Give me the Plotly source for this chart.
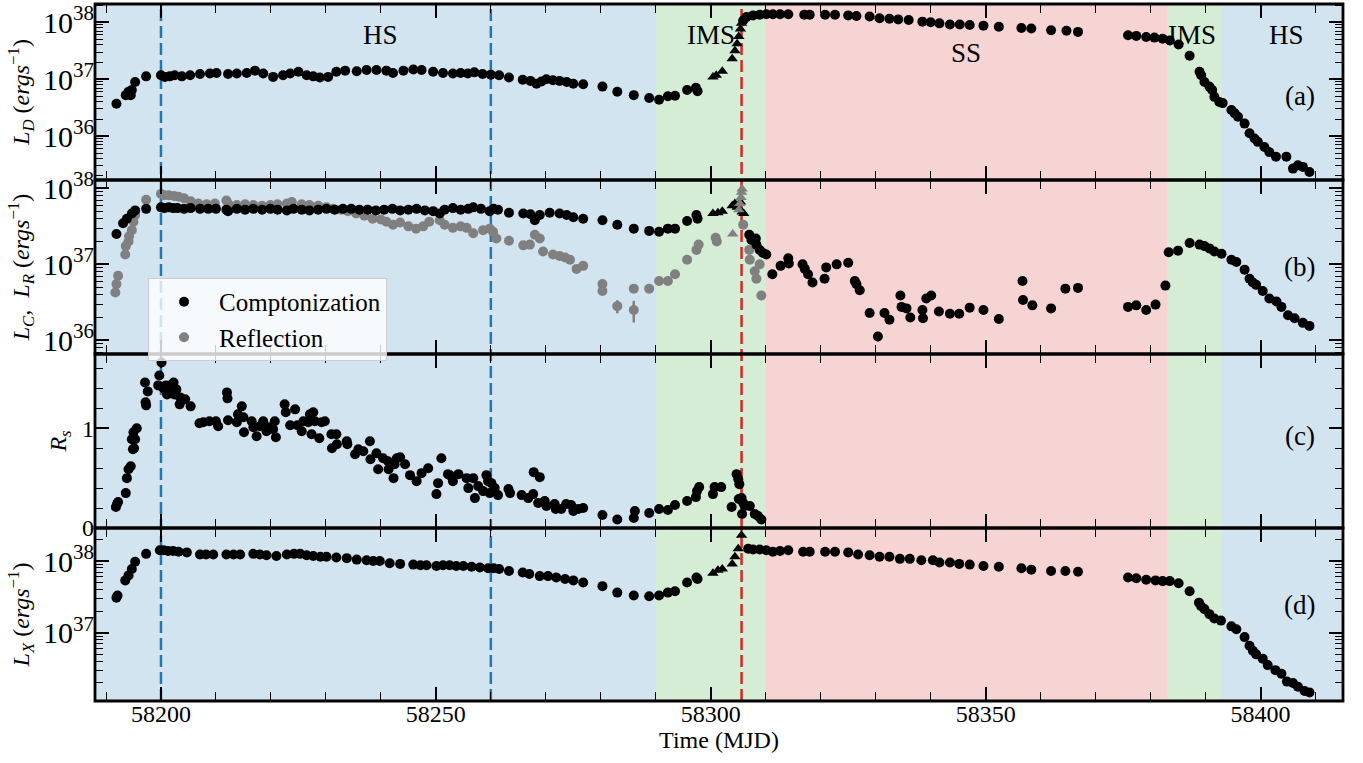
import plotly.graph_objects as go
from plotly.subplots import make_subplots

# ---------------- panel (a): disc luminosity, log10(L_D / erg s^-1) ----------------
mjd_a = [58191.9, 58193.6, 58194.1, 58194.5, 58194.7, 58195.3, 58197.3,
         58200.0, 58200.7, 58201.6, 58202.5, 58203.8, 58205.3, 58207.1, 58208.9, 58210.1,
         58212.2, 58213.8, 58215.6, 58217.1, 58218.6, 58220.4, 58222.2, 58223.5, 58225.0,
         58226.5, 58227.7, 58228.9, 58230.4, 58231.9, 58233.5, 58235.6, 58237.4, 58239.2,
         58241.0, 58242.2, 58244.1, 58245.9, 58247.4, 58249.5, 58251.3, 58253.1, 58254.5,
         58255.8, 58257.0, 58258.5, 58260.0, 58261.5, 58263.3, 58265.8, 58267.2, 58268.3,
         58269.2, 58270.1, 58271.3, 58272.5, 58273.8, 58275.0, 58276.8, 58280.3, 58283.0,
         58286.0, 58288.8, 58290.6, 58292.2, 58293.5, 58295.7, 58297.3, 58297.6,
         58305.9, 58306.5, 58307.7, 58308.9, 58310.1, 58311.3, 58312.6, 58314.1, 58317.0,
         58318.0, 58320.8, 58322.6, 58325.0, 58326.5, 58328.9, 58330.7, 58332.5, 58334.1,
         58336.0, 58338.5, 58340.0, 58341.6, 58343.5, 58345.3, 58347.1, 58349.6, 58352.4,
         58356.5, 58358.3, 58361.9, 58364.7, 58366.8, 58375.9, 58377.4, 58379.2, 58380.7,
         58382.2, 58383.5, 58385.1, 58387.1, 58388.9, 58389.2, 58389.8, 58390.7, 58391.2,
         58391.6, 58392.5, 58393.1, 58394.7, 58395.3, 58395.9, 58397.1, 58398.0, 58398.9,
         58399.5, 58400.7, 58401.6, 58402.8, 58404.7, 58405.9, 58406.8, 58407.7, 58408.9]
log_ld = [36.57, 36.72, 36.78, 36.72, 36.81, 36.95, 37.05,
          37.07, 37.04, 37.05, 37.07, 37.05, 37.07, 37.09, 37.10, 37.11,
          37.09, 37.10, 37.11, 37.15, 37.10, 37.04, 37.07, 37.10, 37.13,
          37.07, 37.05, 37.03, 37.04, 37.13, 37.15, 37.14, 37.16, 37.16,
          37.15, 37.11, 37.15, 37.17, 37.16, 37.13, 37.11, 37.10, 37.11,
          37.10, 37.12, 37.09, 37.08, 37.07, 37.03, 36.99, 36.97, 36.92,
          36.96, 37.00, 36.98, 36.97, 36.95, 36.92, 36.91, 36.87, 36.78,
          36.72, 36.67, 36.64, 36.70, 36.71, 36.81, 36.85, 36.79,
          38.03, 38.09, 38.12, 38.13, 38.14, 38.14, 38.14, 38.14, 38.13,
          38.13, 38.13, 38.13, 38.12, 38.11, 38.10, 38.07, 38.06, 38.05,
          38.04, 38.01, 38.00, 37.98, 37.96, 37.96, 37.95, 37.94, 37.92,
          37.90, 37.89, 37.86, 37.85, 37.83, 37.77, 37.76, 37.74, 37.73,
          37.71, 37.68, 37.61, 37.41, 37.13, 37.07, 36.95, 36.87, 36.81,
          36.69, 36.60, 36.58, 36.46, 36.40, 36.34, 36.22, 36.05, 35.96,
          35.90, 35.81, 35.72, 35.64, 35.64, 35.43, 35.49, 35.46, 35.37]
mjd_a_tri = [58300.4, 58301.0, 58302.1, 58303.9, 58304.4, 58304.8, 58305.1, 58305.4, 58305.6]
log_ld_tri = [37.04, 37.07, 37.14, 37.36, 37.50, 37.62, 37.75, 37.88, 37.98]

# ---------------- panel (b): Comptonization and reflection luminosities ----------------
mjd_c = [58191.9, 58193.1, 58193.8, 58194.7, 58195.3, 58197.3,
         58200.0, 58200.6, 58201.4, 58202.2, 58203.0, 58204.2, 58205.4, 58207.1, 58208.6,
         58210.0, 58211.9, 58212.2, 58213.8, 58215.3, 58216.8, 58218.4, 58219.9, 58221.2,
         58222.9, 58224.1, 58225.6, 58227.0, 58228.6, 58230.1, 58231.6, 58233.1, 58234.6,
         58236.1, 58237.6, 58239.1, 58240.6, 58242.1, 58243.5, 58245.0, 58246.5, 58248.0,
         58249.5, 58250.7, 58251.6, 58253.1, 58254.5, 58255.9, 58256.8, 58258.2, 58259.8,
         58260.5, 58261.3, 58263.3, 58265.9, 58267.2, 58268.0, 58268.9, 58270.7, 58272.5,
         58273.8, 58275.0, 58276.8, 58280.3, 58283.0, 58286.0, 58288.8, 58290.6, 58292.2,
         58293.5, 58295.7, 58297.4, 58297.6,
         58307.0, 58307.4, 58308.2, 58308.3, 58308.9, 58309.5, 58310.1, 58311.2, 58312.7,
         58314.1, 58314.2, 58316.7, 58317.1, 58317.7, 58318.5, 58320.7, 58321.0, 58322.9,
         58325.0, 58326.2, 58326.5, 58327.1, 58328.9, 58330.4, 58331.6, 58332.5, 58334.5,
         58334.7, 58335.6, 58336.3, 58338.5, 58338.6, 58339.2, 58340.1, 58341.5, 58343.5,
         58345.2, 58347.1, 58349.6, 58352.4, 58356.7, 58356.8, 58358.5, 58361.9, 58364.5,
         58366.8, 58375.9, 58377.4, 58379.2, 58380.9, 58382.7, 58383.3, 58385.0, 58387.1,
         58388.9, 58389.8, 58390.7, 58391.6, 58392.9, 58394.7, 58395.6, 58397.1, 58398.0,
         58398.6, 58399.2, 58400.4, 58401.6, 58402.9, 58403.8, 58405.0, 58406.2, 58407.7,
         58408.9]
log_lc = [37.40, 37.54, 37.60, 37.67, 37.71, 37.73,
          37.75, 37.74, 37.75, 37.74, 37.74, 37.73, 37.74, 37.73, 37.73,
          37.73, 37.72, 37.70, 37.73, 37.72, 37.73, 37.72, 37.73, 37.72,
          37.71, 37.73, 37.72, 37.71, 37.72, 37.73, 37.72, 37.73, 37.73,
          37.72, 37.72, 37.71, 37.72, 37.73, 37.71, 37.72, 37.73, 37.71,
          37.70, 37.67, 37.72, 37.74, 37.72, 37.73, 37.75, 37.73, 37.70,
          37.73, 37.72, 37.68, 37.67, 37.66, 37.58, 37.65, 37.68, 37.67,
          37.65, 37.62, 37.60, 37.58, 37.52, 37.47, 37.44, 37.43, 37.47,
          37.47, 37.57, 37.65, 37.60,
          37.39, 37.32, 37.34, 37.26, 37.19, 37.15, 37.13, 36.87, 36.98,
          37.08, 37.01, 37.00, 36.94, 36.87, 36.76, 36.81, 36.96, 37.00,
          37.02, 36.78, 36.74, 36.66, 36.36, 36.05, 36.36, 36.27, 36.59,
          36.44, 36.42, 36.30, 36.40, 36.29, 36.55, 36.59, 36.38, 36.35,
          36.35, 36.43, 36.40, 36.28, 36.78, 36.53, 36.46, 36.42, 36.68,
          36.69, 36.44, 36.46, 36.40, 36.47, 36.72, 37.16, 37.18, 37.28,
          37.26, 37.24, 37.21, 37.17, 37.14, 37.06, 37.03, 36.93, 36.81,
          36.76, 36.73, 36.65, 36.55, 36.51, 36.44, 36.33, 36.29, 36.23,
          36.19]
# 1-sigma errors on L_C in units of 1e36 erg/s (only the large ones are non-zero)
err_lc = [0.0] * len(mjd_c)
err_lc[mjd_c.index(58330.4)] = 0.15

mjd_c_tri = [58300.4, 58301.3, 58302.1, 58303.9, 58304.4, 58304.8, 58305.4, 58305.7, 58306.0]
log_lc_tri = [37.67, 37.68, 37.70, 37.77, 37.80, 37.75, 37.82, 37.69, 37.67]

mjd_r = [58191.7, 58191.9, 58192.2, 58193.5, 58193.6, 58194.1, 58194.2, 58194.7, 58195.0,
         58195.3, 58197.3,
         58200.0, 58200.6, 58201.4, 58202.4, 58203.2, 58204.2, 58205.4, 58206.8, 58208.3,
         58209.8, 58211.9, 58212.3, 58213.8, 58215.3, 58216.8, 58218.4, 58219.9, 58221.2,
         58222.9, 58223.8, 58225.6, 58227.0, 58228.6, 58230.1, 58231.3, 58232.8, 58234.0,
         58235.5, 58237.0, 58238.5, 58240.0, 58241.0, 58242.2, 58243.5, 58245.0, 58246.4,
         58247.7, 58248.8, 58250.7, 58251.6, 58253.1, 58254.5, 58255.6, 58256.8, 58258.6,
         58259.8, 58260.4, 58261.0, 58263.3, 58265.9, 58267.1, 58268.0, 58268.9, 58269.5,
         58271.3, 58272.5, 58273.5, 58274.4, 58275.6, 58276.8, 58280.3, 58280.3, 58283.0,
         58286.0, 58286.0, 58288.8, 58290.6, 58292.2, 58293.5, 58295.7, 58297.4, 58297.8,
         58300.9, 58301.1,
         58305.9, 58307.0, 58307.1, 58308.0, 58308.3, 58308.9, 58309.2]
log_lr = [36.63, 36.74, 36.85, 37.13, 37.24, 37.30, 37.37, 37.45, 37.56,
          37.65, 37.85,
          37.93, 37.91, 37.91, 37.90, 37.89, 37.87, 37.83, 37.80, 37.79,
          37.80, 37.84, 37.79, 37.78, 37.79, 37.78, 37.77, 37.78, 37.79,
          37.80, 37.82, 37.79, 37.78, 37.77, 37.75, 37.73, 37.72, 37.70,
          37.67, 37.64, 37.60, 37.59, 37.56, 37.52, 37.55, 37.50, 37.47,
          37.50, 37.56, 37.58, 37.52, 37.48, 37.50, 37.48, 37.41, 37.45,
          37.47, 37.43, 37.34, 37.31, 37.25, 37.26, 37.39, 37.34, 37.17,
          37.13, 37.11, 37.09, 37.06, 36.94, 36.98, 36.74, 36.65, 36.45,
          36.68, 36.40, 36.68, 36.78, 36.78, 36.87, 37.06, 37.19, 37.26,
          37.35, 37.30,
          37.52, 37.19, 37.06, 36.91, 36.81, 37.00, 36.59]
# 1-sigma errors on L_R in units of 1e36 erg/s
err_lr = [0.0] * len(mjd_r)
err_lr[71] = 0.3
err_lr[72] = 0.3
err_lr[73] = 0.55
err_lr[74] = 0.5
err_lr[75] = 0.8

mjd_r_tri = [58304.0, 58305.1, 58305.3, 58305.5, 58305.6, 58305.7]
log_lr_tri = [37.40, 37.72, 37.80, 37.88, 37.95, 37.99]

# ---------------- panel (c): reflection strength R_s ----------------
mjd_s = [58191.8, 58192.0, 58192.2, 58193.6, 58193.8, 58194.1, 58194.5, 58194.7, 58194.9,
         58195.0, 58195.1, 58195.3, 58195.6, 58197.1, 58197.3, 58197.2, 58197.6,
         58199.5, 58199.7, 58200.1, 58200.5, 58200.9, 58201.1, 58201.4, 58201.7, 58202.0,
         58202.3, 58202.5, 58202.8, 58203.4, 58203.5, 58204.4, 58205.4,
         58207.0, 58207.7, 58208.8, 58210.0, 58210.4, 58212.0, 58212.1, 58212.2, 58213.8,
         58214.0, 58214.7, 58215.0, 58215.1, 58216.5, 58216.8, 58217.4, 58218.0, 58218.6,
         58219.2, 58219.8, 58220.4, 58220.7, 58220.9,
         58222.5, 58222.7, 58223.5, 58224.4, 58224.8, 58225.6, 58225.9, 58226.8, 58227.1,
         58227.4, 58227.7, 58228.0, 58228.8, 58229.2, 58229.8,
         58231.0, 58231.1, 58231.9, 58232.0, 58233.8, 58233.9,
         58235.3, 58235.9, 58236.8, 58238.0, 58238.1, 58239.2, 58239.5, 58240.4, 58241.3,
         58241.4, 58242.3, 58242.5, 58242.9, 58243.5, 58244.4,
         58245.3, 58246.5, 58247.4, 58248.6, 58250.1, 58250.4, 58251.0, 58252.2, 58252.5,
         58253.1, 58254.1, 58255.6, 58255.9, 58256.8, 58257.1, 58257.7, 58258.6, 58259.2,
         58259.5, 58259.8, 58260.1, 58260.7, 58261.3,
         58263.2, 58263.5, 58265.6, 58266.8, 58267.7, 58267.8, 58268.9, 58268.6, 58269.8,
         58270.1, 58271.6, 58271.8, 58272.8, 58273.7, 58274.6, 58275.0, 58275.9, 58276.8,
         58280.3, 58283.0, 58286.0, 58286.2, 58288.8, 58290.6, 58292.2, 58293.5, 58295.7,
         58297.3, 58297.5, 58297.9, 58300.4, 58300.7, 58301.9, 58303.8, 58304.7, 58305.0,
         58305.2, 58305.1, 58305.6, 58305.9, 58305.7, 58306.2, 58307.1, 58308.0, 58308.6,
         58309.2]
rs = [0.21, 0.24, 0.26, 0.35, 0.50, 0.59, 0.62, 0.89, 0.79,
      0.96, 0.80, 0.89, 1.00, 1.46, 1.23, 1.26, 1.37,
      1.43, 1.53, 1.66, 1.40, 1.43, 1.34, 1.37, 1.43, 1.35,
      1.46, 1.34, 1.39, 1.24, 1.31, 1.29, 1.22,
      1.05, 1.06, 1.07, 1.07, 1.02, 1.36, 1.30, 1.08, 1.06,
      1.14, 1.22, 1.11, 0.96, 1.07, 1.01, 0.92, 1.02, 1.07,
      0.97, 1.01, 0.99, 1.07, 0.91,
      1.24, 1.16, 1.03, 1.19, 1.03, 0.97, 1.07, 1.06, 1.14,
      0.94, 1.16, 1.07, 0.90, 1.06, 1.07,
      0.94, 0.80, 0.94, 0.84, 0.87, 0.84,
      0.74, 0.79, 0.77, 0.87, 0.69, 0.75, 0.59, 0.70, 0.67,
      0.59, 0.50, 0.64, 0.70, 0.71, 0.64,
      0.53, 0.47, 0.55, 0.60, 0.34, 0.45, 0.70, 0.54, 0.53,
      0.47, 0.54, 0.50, 0.40, 0.50, 0.30, 0.42, 0.37, 0.53,
      0.47, 0.35, 0.45, 0.40, 0.33,
      0.39, 0.35, 0.33, 0.30, 0.34, 0.56, 0.51, 0.25, 0.27,
      0.22, 0.24, 0.19, 0.19, 0.24, 0.23, 0.17, 0.19, 0.20,
      0.13, 0.085, 0.10, 0.17, 0.15, 0.19, 0.18, 0.23, 0.27,
      0.31, 0.37, 0.41, 0.34, 0.41, 0.41, 0.21, 0.54, 0.49,
      0.44, 0.29, 0.30, 0.25, 0.14, 0.22, 0.22, 0.14, 0.12,
      0.085]

# ---------------- panel (d): total X-ray luminosity, log10(L_X / erg s^-1) ----------------
mjd_x = [58191.9, 58192.1, 58193.5, 58194.1, 58194.7, 58195.3, 58197.3,
         58199.8, 58200.5, 58201.3, 58202.2, 58203.2, 58204.7, 58207.1, 58208.2, 58209.5,
         58211.9, 58213.2, 58214.4, 58216.8, 58218.0, 58219.2, 58221.0, 58222.9, 58224.2,
         58225.3, 58226.5, 58227.7, 58229.0, 58230.1, 58231.9, 58233.8, 58235.6, 58237.4,
         58238.6, 58239.8, 58241.6, 58243.5, 58245.9, 58247.2, 58248.3, 58250.1, 58251.3,
         58252.5, 58253.7, 58255.0, 58256.5, 58258.0, 58259.5, 58260.5, 58261.5, 58263.3,
         58265.8, 58267.0, 58268.9, 58270.4, 58271.9, 58273.5, 58275.0, 58276.8, 58280.3,
         58283.0, 58286.0, 58288.8, 58290.6, 58292.2, 58293.5, 58295.7, 58297.4, 58297.6,
         58306.8, 58307.7, 58308.9, 58310.1, 58311.3, 58312.6, 58314.1, 58316.8, 58318.0,
         58320.8, 58322.6, 58325.0, 58326.8, 58328.9, 58330.7, 58332.5, 58334.4, 58336.2,
         58338.3, 58340.4, 58341.6, 58343.5, 58345.2, 58347.1, 58349.6, 58352.4, 58356.5,
         58358.3, 58361.9, 58364.5, 58366.8, 58375.9, 58377.4, 58379.2, 58380.9, 58382.2,
         58383.5, 58385.1, 58387.1, 58388.8, 58389.2, 58389.8, 58390.7, 58391.6, 58392.8,
         58394.7, 58395.6, 58397.1, 58398.0, 58398.6, 58399.2, 58400.4, 58401.3, 58402.7,
         58403.8, 58404.8, 58405.9, 58406.8, 58408.0, 58408.9]
log_lx = [37.49, 37.52, 37.73, 37.80, 37.89, 37.99, 38.10,
          38.15, 38.15, 38.14, 38.14, 38.13, 38.12, 38.09, 38.09, 38.09,
          38.09, 38.09, 38.09, 38.10, 38.09, 38.08, 38.07, 38.09, 38.10,
          38.10, 38.08, 38.07, 38.06, 38.06, 38.05, 38.04, 38.02, 38.01,
          38.00, 38.00, 37.97, 37.96, 37.95, 37.94, 37.94, 37.93, 37.94,
          37.94, 37.93, 37.93, 37.92, 37.91, 37.90, 37.90, 37.89, 37.86,
          37.84, 37.82, 37.79, 37.79, 37.77, 37.75, 37.73, 37.70, 37.65,
          37.56, 37.52, 37.51, 37.52, 37.56, 37.58, 37.70, 37.77, 37.75,
          38.17, 38.16, 38.16, 38.15, 38.13, 38.14, 38.15, 38.13, 38.13,
          38.13, 38.13, 38.12, 38.09, 38.08, 38.06, 38.06, 38.03, 38.03,
          38.01, 38.01, 37.98, 37.98, 37.96, 37.95, 37.93, 37.92, 37.90,
          37.88, 37.86, 37.86, 37.85, 37.77, 37.76, 37.74, 37.73, 37.72,
          37.72, 37.69, 37.58, 37.42, 37.37, 37.33, 37.26, 37.20, 37.17,
          37.09, 37.05, 36.94, 36.82, 36.75, 36.70, 36.64, 36.55, 36.48,
          36.43, 36.32, 36.30, 36.25, 36.19, 36.17]
mjd_x_tri = [58300.4, 58301.3, 58302.1, 58303.9, 58304.4, 58305.0, 58305.6]
log_lx_tri = [37.83, 37.87, 37.89, 37.96, 38.06, 38.17, 38.36]

# ---------------- spectral states and reference epochs ----------------
state_spans = [(58180.0, 58290.0, "rgba(31,119,180,0.2)"),
               (58290.0, 58310.0, "rgba(44,160,44,0.2)"),
               (58310.0, 58383.0, "rgba(214,39,40,0.2)"),
               (58383.0, 58393.0, "rgba(44,160,44,0.2)"),
               (58393.0, 58420.0, "rgba(31,119,180,0.2)")]
state_names = ["HS", "IMS", "SS", "IMS", "HS"]
state_label_mjd = [58240.0, 58300.0, 58346.4, 58387.6, 58404.7]
epoch_lines = [(58200.0, "#1f77b4"), (58260.0, "#1f77b4"), (58305.6, "#d62728")]
panel_tags = ["(a)", "(b)", "(c)", "(d)"]

FONT = "Liberation Serif"
ROW_HEIGHTS = [176, 174, 174, 173]


def lum(logs):
    return [10.0 ** v for v in logs]


fig = make_subplots(rows=4, cols=1, shared_xaxes=True, vertical_spacing=0,
                    row_heights=ROW_HEIGHTS)

circ = dict(symbol="circle", size=10, line=dict(width=0))
tri = dict(symbol="triangle-up", size=10, line=dict(width=0))

# (a)
fig.add_trace(go.Scatter(x=mjd_a, y=lum(log_ld), mode="markers",
                         marker=dict(color="black", **circ), showlegend=False), row=1, col=1)
fig.add_trace(go.Scatter(x=mjd_a_tri, y=lum(log_ld_tri), mode="markers",
                         marker=dict(color="black", **tri), showlegend=False), row=1, col=1)

# (b)
fig.add_trace(go.Scatter(x=mjd_r, y=lum(log_lr), mode="markers", name="Reflection",
                         marker=dict(color="gray", **circ), legendrank=2,
                         error_y=dict(type="data", array=[e * 1e36 for e in err_lr],
                                      color="gray", thickness=2.5, width=0)),
              row=2, col=1)
fig.add_trace(go.Scatter(x=mjd_c, y=lum(log_lc), mode="markers", name="Comptonization",
                         marker=dict(color="black", **circ), legendrank=1,
                         error_y=dict(type="data", array=[e * 1e36 for e in err_lc],
                                      color="black", thickness=2.5, width=0)),
              row=2, col=1)
fig.add_trace(go.Scatter(x=mjd_c_tri, y=lum(log_lc_tri), mode="markers",
                         marker=dict(color="black", **tri), showlegend=False), row=2, col=1)
fig.add_trace(go.Scatter(x=mjd_r_tri, y=lum(log_lr_tri), mode="markers",
                         marker=dict(color="gray", **tri), showlegend=False), row=2, col=1)

# (c)
fig.add_trace(go.Scatter(x=mjd_s, y=rs, mode="markers",
                         marker=dict(color="black", **circ), showlegend=False), row=3, col=1)

# (d)
fig.add_trace(go.Scatter(x=mjd_x, y=lum(log_lx), mode="markers",
                         marker=dict(color="black", **circ), showlegend=False), row=4, col=1)
fig.add_trace(go.Scatter(x=mjd_x_tri, y=lum(log_lx_tri), mode="markers",
                         marker=dict(color="black", **tri), showlegend=False), row=4, col=1)

# state shading across all panels
for x0, x1, col in state_spans:
    fig.add_shape(type="rect", xref="x", yref="paper", x0=x0, x1=x1, y0=0, y1=1,
                  fillcolor=col, line=dict(width=0), layer="below")
for xv, col in epoch_lines:
    fig.add_shape(type="line", xref="x", yref="paper", x0=xv, x1=xv, y0=0, y1=1,
                  line=dict(color=col, width=2.5, dash="12px,5px"), layer="below")

# panel frames (drawn as shapes so that shared borders keep one line width)
total = float(sum(ROW_HEIGHTS))
edges = [1.0]
for h in ROW_HEIGHTS:
    edges.append(edges[-1] - h / total)
for top, bot in zip(edges[:-1], edges[1:]):
    fig.add_shape(type="rect", xref="paper", yref="paper", x0=0, x1=1, y0=bot, y1=top,
                  line=dict(color="black", width=2.8), fillcolor="rgba(0,0,0,0)",
                  layer="above")

# axes
tickfont = dict(family=FONT, size=24, color="black")
common = dict(showline=False, mirror="allticks", automargin=False,
              ticks="inside", tickwidth=1.5, tickcolor="black", showgrid=False,
              zeroline=False, tickfont=tickfont)
fig.update_xaxes(range=[58188, 58415], tick0=58200, dtick=50, ticklen=14,
                 tickformat="d", ticklabelstandoff=-4,
                 minor=dict(ticks="inside", ticklen=9, tickwidth=1.2, tickcolor="black",
                            dtick=10, tick0=58190, showgrid=False),
                 **common)
fig.update_xaxes(title=dict(text="Time (MJD)", font=dict(family=FONT, size=24, color="black"),
                            standoff=4), row=4, col=1)

log_axis = dict(type="log", dtick=1, exponentformat="power", ticklen=14,
                minor=dict(ticks="inside", ticklen=8, tickwidth=1.2, tickcolor="black",
                           dtick="D1", showgrid=False))
title_font = dict(family=FONT, size=24, color="black")
fig.update_yaxes(range=[35.23, 38.32], row=1, col=1,
                 title=dict(text="<i>L<sub>D</sub></i> (<i>ergs</i><sup>\u22121</sup>)",
                            font=title_font, standoff=6), **log_axis, **common)
fig.update_yaxes(range=[35.82, 38.11], row=2, col=1,
                 title=dict(text="<i>L<sub>C</sub></i>,  <i>L<sub>R</sub></i> (<i>ergs</i><sup>\u22121</sup>)",
                            font=title_font, standoff=6), **log_axis, **common)
fig.update_yaxes(range=[0, 1.745], row=3, col=1, dtick=1, tick0=0, ticklen=14,
                 minor=dict(ticks="inside", ticklen=8, tickwidth=1.2, tickcolor="black",
                            dtick=0.2, tick0=0, showgrid=False),
                 title=dict(text="<i>R<sub>s</sub></i>", font=title_font, standoff=8),
                 **common)
fig.update_yaxes(range=[36.05, 38.46], row=4, col=1,
                 title=dict(text="<i>L<sub>X</sub></i> (<i>ergs</i><sup>\u22121</sup>)",
                            font=title_font, standoff=6), **log_axis, **common)

# state names and panel tags
label_font = dict(family=FONT, size=27, color="black")
state_label_y = [0.956, 0.956, 0.929, 0.956, 0.956]
for name, xm, yp in zip(state_names, state_label_mjd, state_label_y):
    fig.add_annotation(x=xm, y=yp, xref="x", yref="paper", text=name, showarrow=False,
                       font=label_font, xanchor="center", yanchor="middle")
for tag, yp in zip(panel_tags, [0.8687, 0.6227, 0.3802, 0.1377]):
    fig.add_annotation(x=0.9655, y=yp, xref="paper", yref="paper", text=tag,
                       showarrow=False, font=label_font, xanchor="center", yanchor="middle")

fig.update_layout(
    width=1363, height=763,
    margin=dict(l=95, r=20, t=4, b=62, autoexpand=False),
    plot_bgcolor="white", paper_bgcolor="white",
    font=dict(family=FONT, size=24, color="black"),
    legend=dict(x=0.0425, y=0.607, xanchor="left", yanchor="top",
                bgcolor="rgba(255,255,255,0.8)", bordercolor="#cccccc", borderwidth=1,
                font=dict(family=FONT, size=25, color="black"),
                itemwidth=60, traceorder="normal"),
)

fig.write_html("out.html")
